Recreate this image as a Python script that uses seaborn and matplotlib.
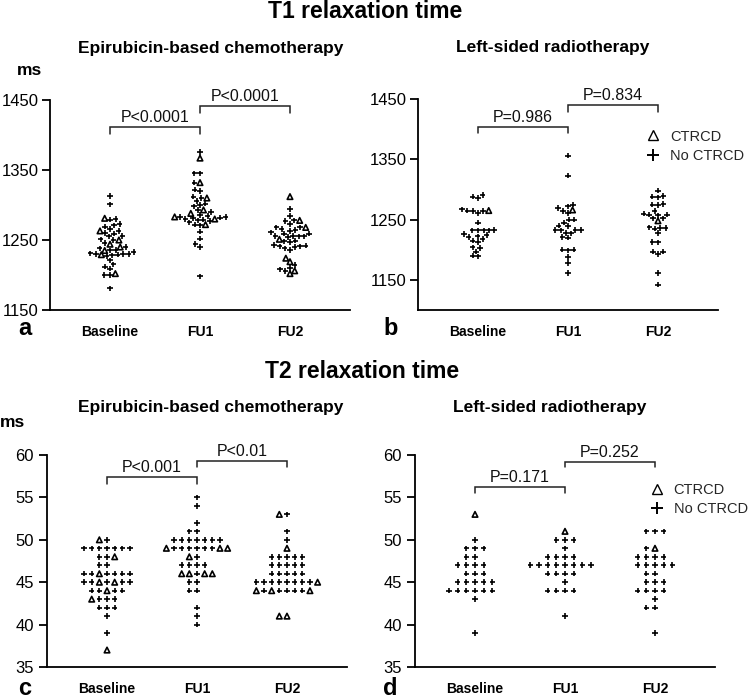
import matplotlib
matplotlib.use("Agg")
import matplotlib.pyplot as plt
import numpy as np
import pandas as pd
import seaborn as sns
from matplotlib.markers import MarkerStyle
from matplotlib.lines import Line2D

sns.set_theme(style="ticks")
plt.rcParams["font.family"] = ["Liberation Sans", "DejaVu Sans"]

timepoints = ["Baseline", "FU1", "FU2"]

# ---------------- T1, epirubicin-based chemotherapy (panel a) ----------------
t1_chemo_base_ctrcd = [1281, 1263, 1250, 1244, 1240, 1235, 1229, 1202]
t1_chemo_base_no = [1313, 1301, 1280, 1279, 1273, 1271, 1269, 1266, 1263, 1260, 1259, 1256,
                    1255, 1251, 1250, 1246, 1240, 1238, 1236, 1235, 1233, 1231, 1230, 1230,
                    1229, 1228, 1230, 1221, 1215, 1212, 1209, 1200, 1200, 1181, 1227]
t1_chemo_fu1_ctrcd = [1367, 1332, 1310, 1293, 1288, 1283, 1280, 1272]
t1_chemo_fu1_no = [1376, 1345, 1345, 1332, 1322, 1320, 1312, 1310, 1306, 1302, 1300, 1298,
                   1293, 1290, 1286, 1284, 1283, 1283, 1282, 1281, 1280, 1279, 1278, 1277,
                   1275, 1272, 1271, 1262, 1252, 1244, 1240, 1198]
t1_chemo_fu2_ctrcd = [1312, 1278, 1268, 1251, 1224, 1219, 1206, 1202]
t1_chemo_fu2_no = [1294, 1284, 1278, 1277, 1273, 1268, 1268, 1266, 1264, 1263, 1261, 1259,
                   1259, 1256, 1256, 1255, 1255, 1254, 1249, 1248, 1247, 1243, 1242, 1241,
                   1241, 1240, 1238, 1236, 1214, 1210, 1208, 1206]

# ---------------- T1, left-sided radiotherapy (panel b) ----------------
t1_radio_base_ctrcd = [1265]
t1_radio_base_no = [1291, 1288, 1286, 1267, 1265, 1264, 1264, 1261, 1245, 1233, 1232, 1232,
                    1232, 1232, 1226, 1224, 1222, 1221, 1218, 1215, 1213, 1204, 1203, 1197,
                    1190, 1189]
t1_radio_fu1_ctrcd = [1266]
t1_radio_fu1_no = [1356, 1323, 1275, 1272, 1269, 1264, 1261, 1250, 1250, 1245, 1240, 1239,
                   1233, 1233, 1233, 1232, 1228, 1227, 1221, 1220, 1200, 1200, 1199, 1188,
                   1178, 1161]
t1_radio_fu2_ctrcd = [1248]
t1_radio_fu2_no = [1298, 1289, 1288, 1287, 1276, 1275, 1274, 1264, 1260, 1258, 1258, 1257,
                   1252, 1252, 1237, 1236, 1236, 1235, 1228, 1213, 1212, 1197, 1197, 1193,
                   1161, 1142]

# ---------------- T2, epirubicin-based chemotherapy (panel c) ----------------
t2_chemo_base_ctrcd = [50, 48, 46, 45, 45, 44, 43, 37]
t2_chemo_base_no = [50, 49, 49, 49, 49, 49, 49, 49, 48, 48, 47, 47, 46, 46, 46, 46, 46, 46,
                    45, 45, 45, 45, 45, 44, 44, 44, 44, 43, 43, 43, 42, 42, 42, 41, 39]
t2_chemo_fu1_ctrcd = [49, 49, 49, 48, 46, 46, 46, 46]
t2_chemo_fu1_no = [55, 54, 52, 51, 51, 50, 50, 50, 50, 50, 50, 50, 49, 49, 49, 49, 49, 49,
                   48, 47, 47, 47, 47, 46, 45, 45, 44, 44, 42, 41, 40]
t2_chemo_fu2_ctrcd = [53, 49, 45, 44, 44, 44, 41, 41]
t2_chemo_fu2_no = [53, 51, 50, 48, 48, 48, 48, 48, 47, 47, 47, 47, 47, 46, 46, 46, 46, 46,
                   45, 45, 45, 45, 45, 45, 45, 45, 44, 44, 44, 44, 44]

# ---------------- T2, left-sided radiotherapy (panel d) ----------------
t2_radio_base_ctrcd = [53]
t2_radio_base_no = [50, 49, 49, 49, 48, 48, 47, 47, 47, 47, 46, 46, 46, 45, 45, 45, 45, 45,
                    44, 44, 44, 44, 44, 44, 43, 39]
t2_radio_fu1_ctrcd = [51]
t2_radio_fu1_no = [50, 50, 50, 49, 48, 48, 48, 48, 47, 47, 47, 47, 47, 47, 47, 47, 46, 46,
                   46, 46, 45, 44, 44, 44, 44, 41]
t2_radio_fu2_ctrcd = [49]
t2_radio_fu2_no = [51, 51, 51, 49, 48, 48, 48, 48, 47, 47, 47, 47, 47, 46, 46, 45, 45, 45,
                   44, 44, 44, 44, 43, 42, 42, 39]

# significance labels and bracket heights (top, foot) per comparison
p_a = ["P<0.0001", "P<0.0001"]
p_b = ["P=0.986", "P=0.834"]
p_c = ["P<0.001", "P<0.01"]
p_d = ["P=0.171", "P=0.252"]
br_a = [(1411, 1402), (1441, 1431)]
br_b = [(1404, 1394), (1440, 1428)]
br_c = [(57.4, 56.6), (59.3, 58.6)]
br_d = [(56.2, 55.5), (59.2, 58.6)]

legend_labels = ["CTRCD", "No CTRCD"]

W, H, DPI = 749, 700, 100
fig = plt.figure(figsize=(W / DPI, H / DPI), dpi=DPI)


def fx(x):
    return x / W


def fy(y):
    return 1 - y / H


def make_df(ctrcd_lists, no_lists):
    rows = []
    for tp, no_vals, c_vals in zip(timepoints, no_lists, ctrcd_lists):
        for v in no_vals:
            rows.append((tp, v, False))
        for v in c_vals:
            rows.append((tp, v, True))
    return pd.DataFrame(rows, columns=["time", "value", "ctrcd"])


def marker_path(m, scale):
    ms = MarkerStyle(m)
    return ms.get_path().transformed(ms.get_transform().scale(scale))


def draw_panel(rect_px, df, ylim, yticks, size, glyph_px, lw, brackets, ptexts,
               tick_pad, legend_anchor=None):
    l, t, r, b = rect_px
    ax = fig.add_axes([fx(l), fy(b), (r - l) / W, (b - t) / H])
    sns.swarmplot(data=df, x="time", y="value", order=timepoints, color="black",
                  marker="+", size=size, linewidth=lw, ax=ax, warn_thresh=1)
    scale = glyph_px / (size * DPI / 72)
    plus = marker_path("+", scale)
    tri = marker_path("^", scale * 1.0)
    for i, tp in enumerate(timepoints):
        coll = ax.collections[i]
        flags = df.loc[df["time"] == tp, "ctrcd"].to_numpy()
        coll.set_paths([tri if f else plus for f in flags])
        coll.set_facecolor(["white" if f else "black" for f in flags])
        coll.set_edgecolor("black")
        coll.set_linewidth(lw)
    ax.set_xlim(-0.667, 2.667)
    ax.set_ylim(*ylim)
    ax.set_yticks(yticks)
    ax.set_xlabel("")
    ax.set_ylabel("")
    ax.patch.set_alpha(0)
    sns.despine(ax=ax)
    for s in ["left", "bottom"]:
        ax.spines[s].set_linewidth(1.3)
        ax.spines[s].set_color("black")
    ax.tick_params(axis="y", length=6, width=1.3, pad=tick_pad, labelsize=12,
                   colors="black")
    ax.tick_params(axis="x", length=0, pad=10.5, labelsize=10, colors="black")
    for lab in ax.get_xticklabels():
        lab.set_fontweight("bold")
    for k, ((ytop, ybot), txt) in enumerate(zip(brackets, ptexts)):
        x0, x1 = k, k + 1
        ax.plot([x0, x0, x1, x1], [ybot, ytop, ytop, ybot], color="#222222", lw=1.1,
                clip_on=False, solid_joinstyle="miter")
        ax.annotate(txt, xy=((x0 + x1) / 2, ytop), xytext=(0, 1.5),
                    textcoords="offset points", ha="center", va="bottom", fontsize=11.5,
                    color="#111111", annotation_clip=False)
    if legend_anchor is not None:
        handles = [Line2D([], [], marker="^", ls="none", mfc="white", mec="black",
                          ms=6.5, mew=1.0),
                   Line2D([], [], marker="+", ls="none", color="black", ms=8, mew=1.4)]
        ax.legend(handles, legend_labels, loc="upper left", bbox_to_anchor=legend_anchor,
                  frameon=False, fontsize=10.5, borderpad=0, borderaxespad=0,
                  handlelength=1.0, handletextpad=0.65, labelspacing=0.35)
    return ax


df_a = make_df([t1_chemo_base_ctrcd, t1_chemo_fu1_ctrcd, t1_chemo_fu2_ctrcd],
               [t1_chemo_base_no, t1_chemo_fu1_no, t1_chemo_fu2_no])
df_b = make_df([t1_radio_base_ctrcd, t1_radio_fu1_ctrcd, t1_radio_fu2_ctrcd],
               [t1_radio_base_no, t1_radio_fu1_no, t1_radio_fu2_no])
df_c = make_df([t2_chemo_base_ctrcd, t2_chemo_fu1_ctrcd, t2_chemo_fu2_ctrcd],
               [t2_chemo_base_no, t2_chemo_fu1_no, t2_chemo_fu2_no])
df_d = make_df([t2_radio_base_ctrcd, t2_radio_fu1_ctrcd, t2_radio_fu2_ctrcd],
               [t2_radio_base_no, t2_radio_fu1_no, t2_radio_fu2_no])

draw_panel((50, 100, 350, 310), df_a, (1150, 1450), [1150, 1250, 1350, 1450],
           size=2.6, glyph_px=5.5, lw=1.2, brackets=br_a, ptexts=p_a, tick_pad=2)
draw_panel((418, 99, 718, 310), df_b, (1100, 1450), [1150, 1250, 1350, 1450],
           size=2.6, glyph_px=5.5, lw=1.2, brackets=br_b, ptexts=p_b, tick_pad=2,
           legend_anchor=(0.759, 0.855))
draw_panel((47, 455, 347, 667), df_c, (35, 60), [35, 40, 45, 50, 55, 60],
           size=4.05, glyph_px=5.5, lw=1.2, brackets=br_c, ptexts=p_c, tick_pad=3.5)
draw_panel((415, 455, 715, 667), df_d, (35, 60), [35, 40, 45, 50, 55, 60],
           size=4.75, glyph_px=5.5, lw=1.2, brackets=br_d, ptexts=p_d, tick_pad=3.5,
           legend_anchor=(0.782, 0.868))

bold = dict(fontweight="bold", color="black")
fig.text(fx(365), fy(17.5), "T1 relaxation time", ha="center", va="baseline",
         fontsize=16.5, **bold)
fig.text(fx(362), fy(378), "T2 relaxation time", ha="center", va="baseline",
         fontsize=16.5, **bold)
fig.text(fx(211), fy(52.7), "Epirubicin-based chemotherapy", ha="center", va="baseline",
         fontsize=12.5, **bold)
fig.text(fx(553), fy(51.7), "Left-sided radiotherapy", ha="center", va="baseline",
         fontsize=12.5, **bold)
fig.text(fx(211), fy(411.7), "Epirubicin-based chemotherapy", ha="center", va="baseline",
         fontsize=12.5, **bold)
fig.text(fx(550), fy(411.7), "Left-sided radiotherapy", ha="center", va="baseline",
         fontsize=12.5, **bold)
fig.text(fx(29), fy(75), "ms", ha="center", va="baseline", fontsize=12.5, **bold)
fig.text(fx(12.5), fy(427), "ms", ha="center", va="baseline", fontsize=12.5, **bold)
for letter, (lx, ly) in zip("abcd", [(18, 340), (383, 340), (18, 700), (383, 700)]):
    fig.text(fx(lx), fy(ly), letter, ha="left", va="bottom", fontsize=17, **bold)

fig.savefig("out.png", dpi=DPI)
